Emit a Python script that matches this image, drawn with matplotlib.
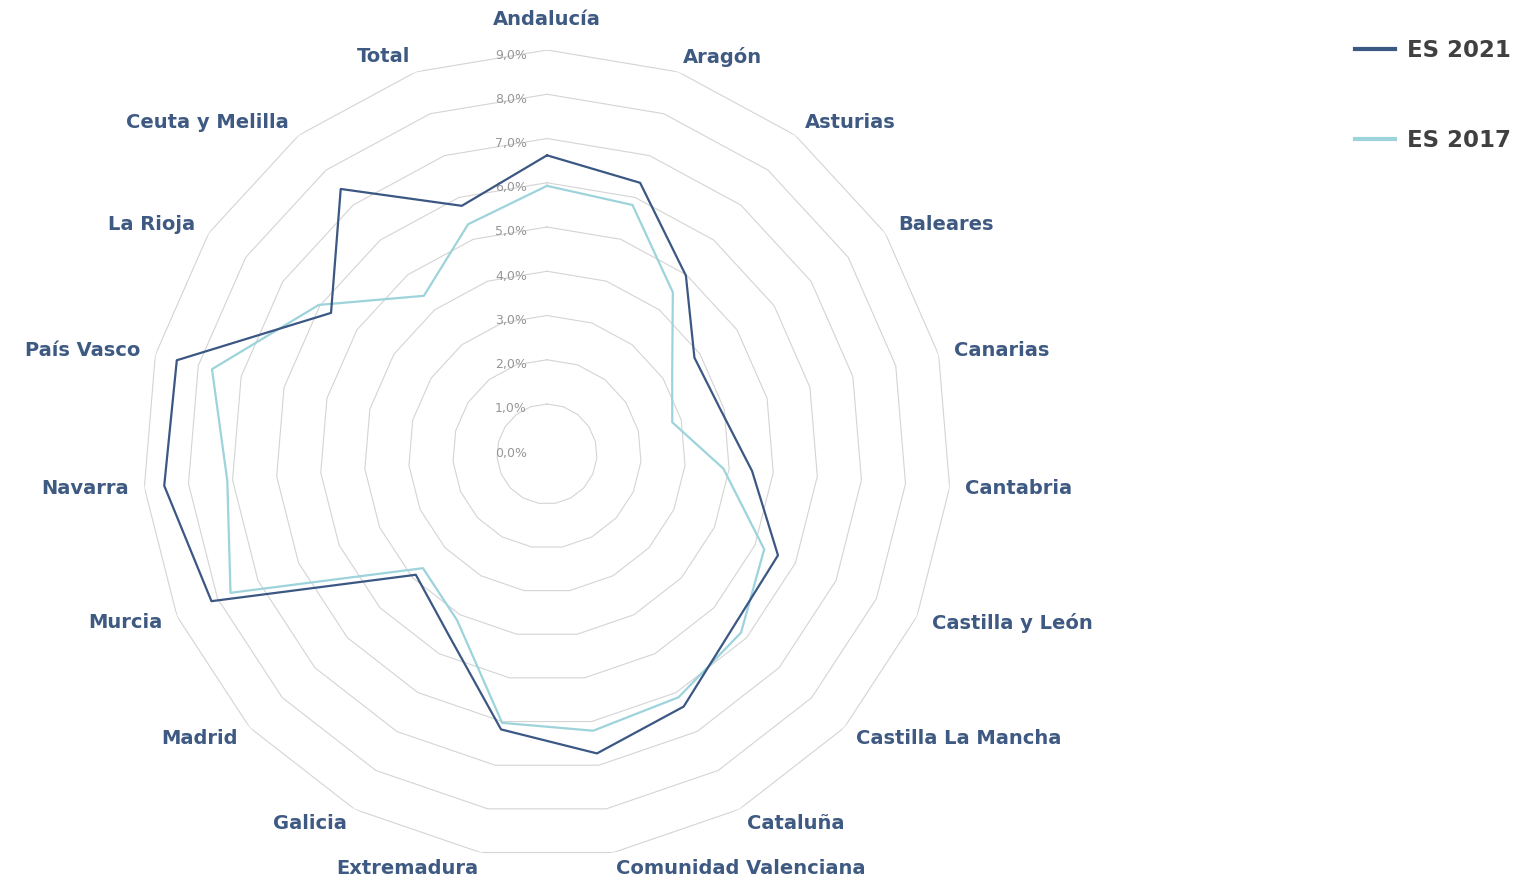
import numpy as np
import matplotlib
matplotlib.use('Agg')
import matplotlib.pyplot as plt

categories = ['Andalucía', 'Aragón', 'Asturias', 'Baleares', 'Canarias', 'Cantabria',
              'Castilla y León', 'Castilla La Mancha', 'Cataluña', 'Comunidad Valenciana',
              'Extremadura', 'Galicia', 'Madrid', 'Murcia', 'Navarra', 'País Vasco',
              'La Rioja', 'Ceuta y Melilla', 'Total']
es2021 = [6.62, 6.35, 4.98, 3.85, 3.92, 4.52, 5.57, 5.61, 6.36, 6.73,
          6.18, 4.53, 3.90, 8.15, 8.55, 8.50, 5.70, 7.46, 5.80]
es2017 = [5.93, 5.82, 4.50, 3.25, 2.79, 3.87, 5.23, 5.83, 6.12, 6.21,
          6.03, 4.14, 3.68, 7.68, 7.12, 7.68, 6.03, 4.40, 5.36]
ring_values = [0, 1, 2, 3, 4, 5, 6, 7, 8, 9]
ring_labels = ['0,0%', '1,0%', '2,0%', '3,0%', '4,0%', '5,0%', '6,0%', '7,0%', '8,0%', '9,0%']

c_2021 = '#3b5783'
c_2017 = '#9dd3db'
c_lab = '#3f5a82'

n = len(categories)
angles = np.linspace(0, 2 * np.pi, n, endpoint=False)
ang_closed = np.append(angles, angles[0])

fig = plt.figure(figsize=(15.33, 8.81), dpi=100)
ax = fig.add_axes([143 / 1533, 23 / 881, 808 / 1533, 808 / 881], projection='polar')
ax.set_theta_offset(np.pi / 2)
ax.set_theta_direction(-1)
ax.set_ylim(-0.13, 9)
ax.set_xticks([])
ax.set_yticks([])
ax.grid(False)
ax.spines['polar'].set_visible(False)
ax.patch.set_alpha(0)

# polygon grid
for v in ring_values[1:]:
    ax.plot(ang_closed, [v] * (n + 1), color='#d4d4d4', lw=0.8, zorder=1)

# value labels along the top axis
for v, t in zip(ring_values, ring_labels):
    ax.annotate(t, xy=(0, v), xytext=(-20, -5), textcoords='offset pixels',
                ha='right', va='center', fontsize=9, color='#969696',
                family='DejaVu Sans')

l1, = ax.plot(ang_closed, es2021 + es2021[:1], color=c_2021, lw=1.6, zorder=3)
l2, = ax.plot(ang_closed, es2017 + es2017[:1], color=c_2017, lw=1.6, zorder=2)

# category labels
for a, name in zip(angles, categories):
    s = np.sin(a)
    if abs(s) < 0.05:
        ha = 'center'
    elif s > 0:
        ha = 'left'
    else:
        ha = 'right'
    r = 9.70 if a == 0 else 9.36
    ax.text(a, r, name, ha=ha, va='center', fontsize=14, fontweight='bold',
            color=c_lab, family='DejaVu Sans')

fig.legend([l1, l2], ['ES 2021', 'ES 2017'], loc='upper left',
           bbox_to_anchor=(1355 / 1533, 1 - 39 / 881), frameon=False,
           prop={'size': 16.5, 'weight': 'bold'}, labelcolor='#404040',
           handlelength=1.75, handletextpad=0.5, labelspacing=2.92,
           borderpad=0, borderaxespad=0)
for h in fig.legends[0].get_lines():
    h.set_linewidth(3)

fig.savefig('out.png', dpi=100)
